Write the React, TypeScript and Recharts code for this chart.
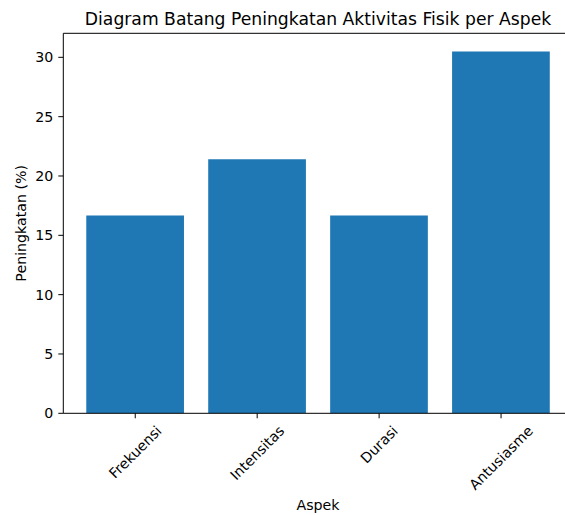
import React from "react";
import { BarChart, Bar, XAxis, YAxis, ReferenceLine } from "recharts";

const categories = ["Frekuensi", "Intensitas", "Durasi", "Antusiasme"];
const values = [16.67, 21.4, 16.67, 30.5];
const yTicks = [0, 5, 10, 15, 20, 25, 30];
const yMax = 32.025;
const title = "Diagram Batang Peningkatan Aktivitas Fisik per Aspek";
const xLabel = "Aspek";
const yLabel = "Peningkatan (%)";

const data = categories.map((name, i) => ({ idx: i, name, value: values[i] }));

const FONT = "'DejaVu Sans', sans-serif";
const TICK_FS = 14.2;
const TITLE_FS = 17.2;

let ctx: CanvasRenderingContext2D | null = null;
function measure(text: string, fs: number): number {
  if (!ctx) {
    const c = document.createElement("canvas");
    ctx = c.getContext("2d");
  }
  if (!ctx) return text.length * fs * 0.6;
  ctx.font = `${fs}px 'DejaVu Sans'`;
  return ctx.measureText(text).width;
}

const XTick = (props: any) => {
  const { x, y, payload } = props;
  const label = categories[payload.value] ?? "";
  const w = measure(label, TICK_FS);
  const h = TICK_FS * 1.0;
  const half = ((w + h) * Math.SQRT1_2) / 2;
  const cy = y + 5 + half;
  return (
    <text
      x={x}
      y={cy}
      textAnchor="middle"
      dominantBaseline="central"
      fontSize={TICK_FS}
      fontFamily={FONT}
      fill="#000"
      transform={`rotate(-45, ${x}, ${cy})`}
    >
      {label}
    </text>
  );
};

export default function App() {
  return (
    <div
      style={{
        position: "fixed",
        left: 0,
        top: 0,
        width: 565,
        height: 515,
        overflow: "hidden",
        background: "#fff",
      }}
    >
      <BarChart
        width={600}
        height={515}
        data={data}
        margin={{ top: 33.3, right: 27, bottom: 0, left: 0 }}
      >
        <XAxis
          dataKey="idx"
          type="number"
          domain={[-0.59, 3.59]}
          allowDataOverflow
          ticks={[0, 1, 2, 3]}
          interval={0}
          height={101.7}
          tickSize={5}
          tickMargin={0}
          tick={<XTick />}
          tickLine={{ stroke: "#000" }}
          axisLine={{ stroke: "#000", strokeWidth: 1 }}
        />
        <YAxis
          type="number"
          domain={[0, yMax]}
          allowDataOverflow
          ticks={yTicks}
          interval={0}
          width={63.3}
          tickSize={5}
          tickMargin={5}
          tick={{ fontSize: TICK_FS, fontFamily: FONT, fill: "#000" }}
          tickLine={{ stroke: "#000" }}
          axisLine={{ stroke: "#000", strokeWidth: 1 }}
        />
        <Bar
          dataKey="value"
          fill="#1f77b4"
          barSize={97.7}
          isAnimationActive={false}
        />
        <ReferenceLine
          y={yMax}
          stroke="#000"
          strokeWidth={1}
          ifOverflow="visible"
        />
      </BarChart>
      <svg
        width={565}
        height={515}
        style={{ position: "absolute", left: 0, top: 0, pointerEvents: "none" }}
      >
        <text
          x={318}
          y={25}
          textAnchor="middle"
          fontSize={TITLE_FS}
          fontFamily={FONT}
          fill="#000"
        >
          {title}
        </text>
        <text
          x={318}
          y={510}
          textAnchor="middle"
          fontSize={TICK_FS}
          fontFamily={FONT}
          fill="#000"
        >
          {xLabel}
        </text>
        <text
          x={21.5}
          y={223.3}
          textAnchor="middle"
          dominantBaseline="central"
          fontSize={TICK_FS}
          fontFamily={FONT}
          fill="#000"
          transform="rotate(-90, 21.5, 223.3)"
        >
          {yLabel}
        </text>
      </svg>
    </div>
  );
}
